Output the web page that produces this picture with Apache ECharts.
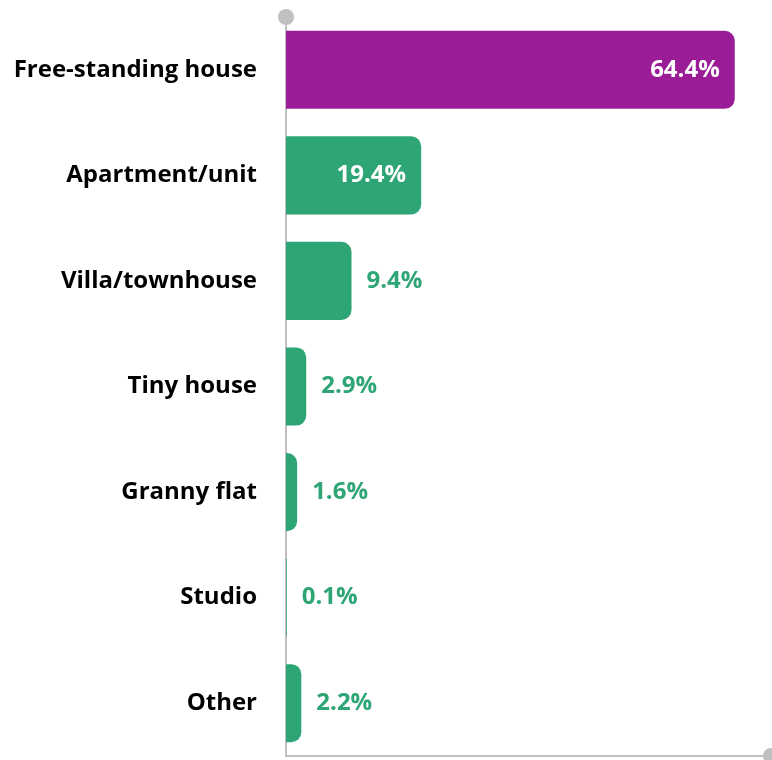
<!DOCTYPE html>
<html><head><meta charset="utf-8">
<script src="https://cdn.jsdelivr.net/npm/echarts@6/dist/echarts.min.js"></script>
<style>html,body{margin:0;padding:0;background:#fff}#c{width:772px;height:760px}</style>
</head><body><div id="c"></div>
<script>
const categories = ["Free-standing house","Apartment/unit","Villa/townhouse","Tiny house","Granny flat","Studio","Other"];
const values = [64.4, 19.4, 9.4, 2.9, 1.6, 0.1, 2.2];
const highlight = [true, false, false, false, false, false, false];
const labelInside = [true, true, false, false, false, false, false];

const PURPLE = '#9A1D97', GREEN = '#2EA574', AXIS = '#C0C0C0';
const FONT = '"Open Sans"';

const data = values.map((v, i) => ({
  value: v,
  itemStyle: { color: highlight[i] ? PURPLE : GREEN },
  label: labelInside[i]
    ? { position: 'insideRight', distance: 15, color: '#fff' }
    : { position: 'right', distance: 15, color: GREEN }
}));

const chart = echarts.init(document.getElementById('c'), null, {renderer: 'canvas'});
chart.setOption({
  animation: false,
  grid: { left: 286, right: 1, top: 17, bottom: 4 },
  xAxis: {
    type: 'value', min: 0, max: 69.6,
    axisLine: { show: true, lineStyle: { color: AXIS, width: 2 }, symbol: ['none', 'circle'], symbolSize: [16, 16] },
    axisTick: { show: false }, axisLabel: { show: false }, splitLine: { show: false }
  },
  yAxis: {
    type: 'category', data: categories, inverse: true,
    axisLine: { show: true, lineStyle: { color: AXIS, width: 2 }, symbol: ['none', 'circle'], symbolSize: [16, 16] },
    axisTick: { show: false },
    axisLabel: { margin: 29, color: '#000', fontFamily: FONT, fontWeight: 'bold', fontSize: 24, padding: [3, 0, 0, 0] }
  },
  series: [{
    type: 'bar', data: data, barWidth: '74%',
    itemStyle: { borderRadius: [0, 10, 10, 0] },
    label: { show: true, formatter: p => p.value.toFixed(1) + '%', fontFamily: FONT, fontWeight: 'bold', fontSize: 24, padding: [3, 0, 0, 0] }
  }]
});
</script></body></html>
